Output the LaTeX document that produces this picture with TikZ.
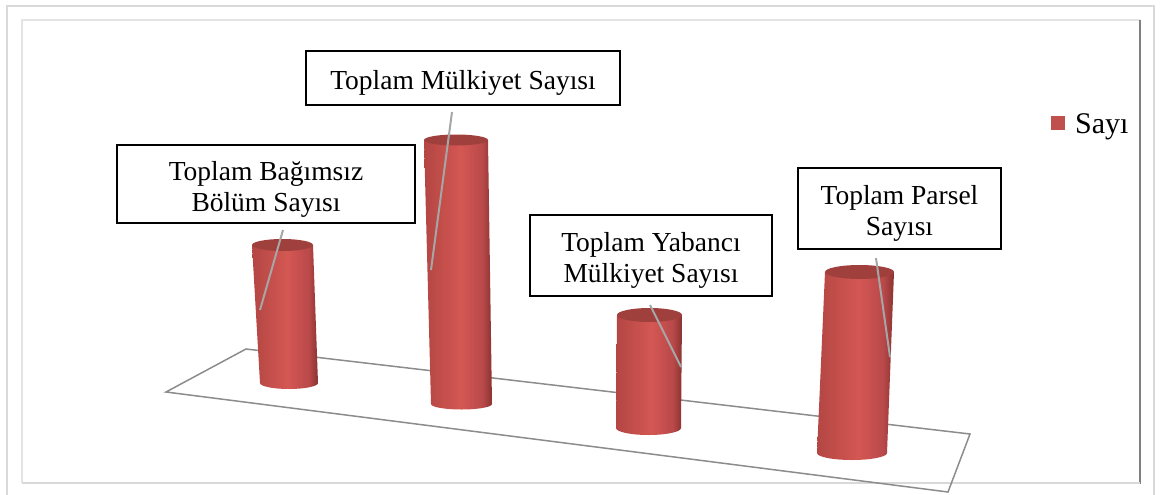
\documentclass[tikz,border=0pt]{standalone}
\usepackage{fontspec}
\setmainfont{Liberation Serif}
\usetikzlibrary{positioning,calc}
\definecolor{cBarL}{HTML}{B34643}
\definecolor{cBarM}{HTML}{D45753}
\definecolor{cBarMR}{HTML}{B9494A}
\definecolor{cBarR}{HTML}{8A3330}
\definecolor{cTop}{HTML}{A0403D}
\definecolor{cLegend}{HTML}{C0504D}
\definecolor{cFloor}{HTML}{8C8C8C}
\definecolor{cLead}{HTML}{A6A6A6}
\definecolor{cFrame}{HTML}{D9D9D9}
\definecolor{cFrameDk}{HTML}{808080}
\pgfdeclarehorizontalshading{barshade}{100bp}{color(0bp)=(cBarL); color(25bp)=(cBarL); color(52bp)=(cBarM); color(68bp)=(cBarMR); color(75bp)=(cBarR); color(100bp)=(cBarR)}
\newcommand{\labellift}{\rule{0pt}{29pt}}
\tikzset{
  labelbox/.style={draw=black,line width=1.5pt,fill=white,align=center,inner sep=0pt,
                   font=\fontsize{27.5}{31}\selectfont},
  leader/.style={draw=cLead,line width=2pt},
  floor/.style={draw=cFloor,line width=1.5pt},
  legtext/.style={font=\fontsize{30}{34}\selectfont,inner sep=0pt},
}
% cylinder: name, top-left x, top-right x, top y, bottom-left x, bottom-right x, bottom y, ellipse ry
\newcommand{\cylbar}[8]{%
  \pgfmathsetmacro{\cylBc}{(#5+#6)/2}%
  \pgfmathsetmacro{\cylBrx}{(#6-#5)/2}%
  \pgfmathsetmacro{\cylTc}{(#2+#3)/2}%
  \pgfmathsetmacro{\cylTrx}{(#3-#2)/2}%
  \shade[shading=barshade] (#2,#4) -- (#5,#7)
    .. controls (#5,#7+0.5523*#8) and (\cylBc-0.5523*\cylBrx,#7+#8) .. (\cylBc,#7+#8)
    .. controls (\cylBc+0.5523*\cylBrx,#7+#8) and (#6,#7+0.5523*#8) .. (#6,#7)
    -- (#3,#4) -- cycle;
  \fill[cTop] (\cylTc,#4) ellipse[x radius=\cylTrx pt, y radius=#8pt];
  \coordinate (#1) at (\cylTc,#4);
}

\begin{document}
\begin{tikzpicture}[x=1pt,y=-1pt]
\useasboundingbox (0,0) rectangle (1164,495);

% ============ FRAMES ============
\draw[cFrame,line width=1.5pt] (7,500) -- (7,6) -- (1154,6) -- (1154,500);
\draw[cFrame!70,line width=1.5pt] (22,483) -- (22,20) -- (1140,20);
\draw[cFrameDk,line width=1.5pt] (1140,20) -- (1140,484);
\draw[cFrame,line width=2pt] (22,483) -- (1140,483);

% ============ FLOOR ============
\draw[floor] (246,349) -- (970,434) -- (948,492) -- (166,392) -- cycle;

% ============ BARS ============
\cylbar{bagimsiz}{252}{313}{245}{260}{318}{383}{6}
\cylbar{mulkiyet}{424}{488}{140}{431}{492}{404}{5.5}
\cylbar{yabanci}{617}{682}{315}{616}{681}{428}{7}
\cylbar{parsel}{825}{894}{272}{817}{887}{453}{7}

% ============ LABELS ============
\node[labelbox,minimum width=298pt,minimum height=78pt] (lbagimsiz) at (266,184)
   {\labellift Toplam Bağımsız\\ Bölüm Sayısı};
\node[labelbox,minimum width=314pt,minimum height=54pt] (lmulkiyet) at (463,78)
   {\labellift Toplam Mülkiyet Sayısı};
\node[labelbox,minimum width=242pt,minimum height=81pt] (lyabanci) at (651,255.5)
   {\labellift Toplam Yabancı\\ Mülkiyet Sayısı};
\node[labelbox,minimum width=203pt,minimum height=81pt] (lparsel) at (899.5,208.5)
   {\labellift Toplam Parsel\\ Sayısı};

% ---------- leader lines ----------
\coordinate (b1a) at (283,230);  \coordinate (b1b) at (260,310);
\coordinate (b2a) at (452,112);  \coordinate (b2b) at (431,270);
\coordinate (b3a) at (650,305);  \coordinate (b3b) at (681,367);
\coordinate (b4a) at (876,258);  \coordinate (b4b) at (890,357);
\draw[leader] (b1a) -- (b1b);
\draw[leader] (b2a) -- (b2b);
\draw[leader] (b3a) -- (b3b);
\draw[leader] (b4a) -- (b4b);

% ---------- legend ----------
\node[fill=cLegend,minimum size=14pt,inner sep=0pt] (legkey) at (1058,122.5) {};
\node[legtext,anchor=base west] (legname) at (1075,133) {Sayı};

\end{tikzpicture}
\end{document}
